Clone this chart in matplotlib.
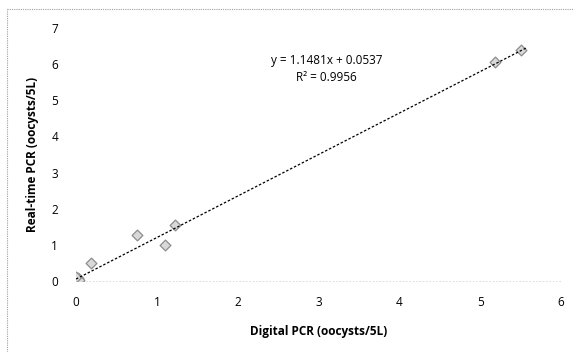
import numpy as np
import matplotlib.pyplot as plt

# Digital PCR vs real-time PCR counts
digital = [0.0, 0.02, 0.04, 0.0, 0.18, 0.76, 1.10, 1.23, 5.18, 5.50]
realtime = [0.0, 0.08, 0.03, 0.12, 0.50, 1.28, 1.00, 1.55, 6.05, 6.39]
slope, intercept, r2 = 1.1481, 0.0537, 0.9956
xticks = [0, 1, 2, 3, 4, 5, 6]
yticks = [0, 1, 2, 3, 4, 5, 6, 7]

plt.rcParams['font.family'] = ['Open Sans', 'DejaVu Sans']

fig = plt.figure(figsize=(5.74, 3.52), dpi=100)
ax = fig.add_axes([76 / 574, 1 - 281 / 352, (561 - 76) / 574, (281 - 28) / 352])

ax.scatter(digital, realtime, marker='D', s=30, facecolor='#d9d9d9',
           edgecolor='#8c8c8c', linewidth=0.9, zorder=3)

fx = np.array([min(digital), max(digital) + 0.08])
ax.plot(fx, slope * fx + intercept, color='black', linestyle=(0, (2, 1.5)),
        linewidth=0.9, zorder=4)

ax.text(3.1, 6.1, f'y = {slope}x + {intercept}', ha='center', va='center',
        fontsize=8.5)
ax.text(3.1, 5.63, f'R² = {r2}', ha='center', va='center', fontsize=8.5)

ax.set_xlim(0, 6)
ax.set_ylim(0, 7)
ax.set_xticks(xticks)
ax.set_yticks(yticks)
ax.tick_params(axis='both', length=0, labelsize=8.5)
ax.tick_params(axis='y', pad=13)
ax.tick_params(axis='x', pad=11)
for side in ['top', 'right', 'left']:
    ax.spines[side].set_visible(False)
ax.spines['bottom'].set_color('#d8d8d8')
ax.spines['bottom'].set_linestyle((0, (1, 3)))
ax.spines['bottom'].set_linewidth(0.6)

ax.set_xlabel('Digital PCR (oocysts/5L)', fontsize=8.5, fontweight='bold', labelpad=11)
ax.set_ylabel('Real-time PCR (oocysts/5L)', fontsize=8.5, fontweight='bold', labelpad=9)
ax.patch.set_visible(False)

# outer chart border (left and top edges)
fig.add_artist(plt.Line2D([7 / 574, 7 / 574], [0, 1 - 9 / 352], transform=fig.transFigure,
                          color='#a0a0a0', linewidth=0.8, linestyle=(0, (1, 1))))
fig.add_artist(plt.Line2D([7 / 574, 1], [1 - 9 / 352, 1 - 9 / 352], transform=fig.transFigure,
                          color='#a0a0a0', linewidth=0.8, linestyle=(0, (1, 1))))

fig.savefig('out.png', dpi=100)
